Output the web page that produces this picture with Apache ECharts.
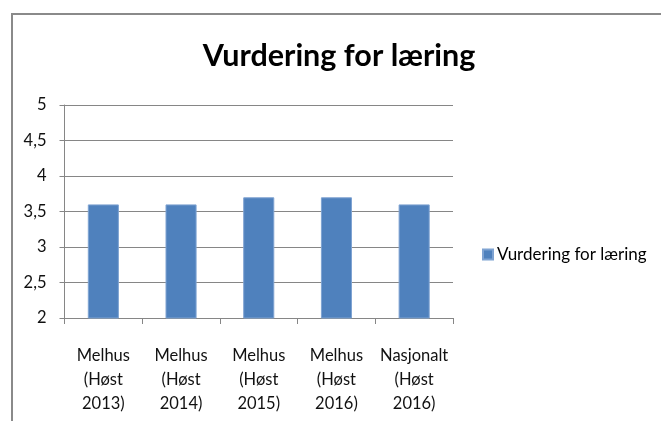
<!DOCTYPE html>
<html>
<head>
<meta charset="utf-8">
<script src="https://cdn.jsdelivr.net/npm/echarts@6/dist/echarts.min.js"></script>
<style>
  html, body { margin: 0; padding: 0; background: #fff; }
  #frame {
    position: absolute; left: 11px; top: 13px; width: 660px; height: 420px;
    border-top: 2px solid #8a8a8a; border-left: 2px solid #8a8a8a;
  }
  #chart { position: absolute; left: 0; top: 0; width: 661px; height: 421px; }
</style>
</head>
<body>
<div id="frame"></div>
<div id="chart"></div>
<script>
// data
const categories = [
  'Melhus\n(Høst\n2013)',
  'Melhus\n(Høst\n2014)',
  'Melhus\n(Høst\n2015)',
  'Melhus\n(Høst\n2016)',
  'Nasjonalt\n(Høst\n2016)'
]
const values = [3.6, 3.6, 3.7, 3.7, 3.6]
const seriesName = 'Vurdering for læring'
const titleText = 'Vurdering for læring'

const font = 'Lato, "Open Sans", sans-serif'

const chart = echarts.init(document.getElementById('chart'))

const option = {
  animation: false,
  title: {
    text: titleText,
    left: 334,
    textAlign: 'center',
    top: 36,
    textStyle: { fontFamily: font, fontSize: 30.5, fontWeight: 'bold', color: '#000' }
  },
  legend: {
    left: 482,
    top: 246,
    padding: 0,
    itemWidth: 10,
    itemHeight: 10,
    itemGap: 4,
    icon: 'rect',
    data: [seriesName],
    textStyle: { fontFamily: font, fontSize: 17, color: '#000', padding: [0, 0, 0, -1] }
  },
  grid: {
    left: 64.5,
    right: 208,
    top: 105,
    bottom: 103
  },
  xAxis: {
    type: 'category',
    data: categories,
    axisLine: { lineStyle: { color: '#868686', width: 1 } },
    axisTick: { show: true, length: 6, lineStyle: { color: '#868686' } },
    axisLabel: {
      fontFamily: font, fontSize: 16.5, color: '#111',
      lineHeight: 24, margin: 26, interval: 0
    }
  },
  yAxis: {
    type: 'value',
    min: 2,
    max: 5,
    interval: 0.5,
    axisLine: { show: true, lineStyle: { color: '#868686', width: 1 } },
    axisTick: { show: true, length: 5, lineStyle: { color: '#868686' } },
    splitLine: { lineStyle: { color: '#868686', width: 1 } },
    axisLabel: {
      fontFamily: font, fontSize: 16.5, color: '#111', margin: 18,
      formatter: v => String(v).replace('.', ',')
    }
  },
  series: [{
    name: seriesName,
    type: 'bar',
    data: values,
    barWidth: '40%',
    itemStyle: { color: '#4F81BD', borderColor: '#7FA3D2', borderWidth: 1 }
  }]
}

chart.setOption(option)
</script>
</body>
</html>
